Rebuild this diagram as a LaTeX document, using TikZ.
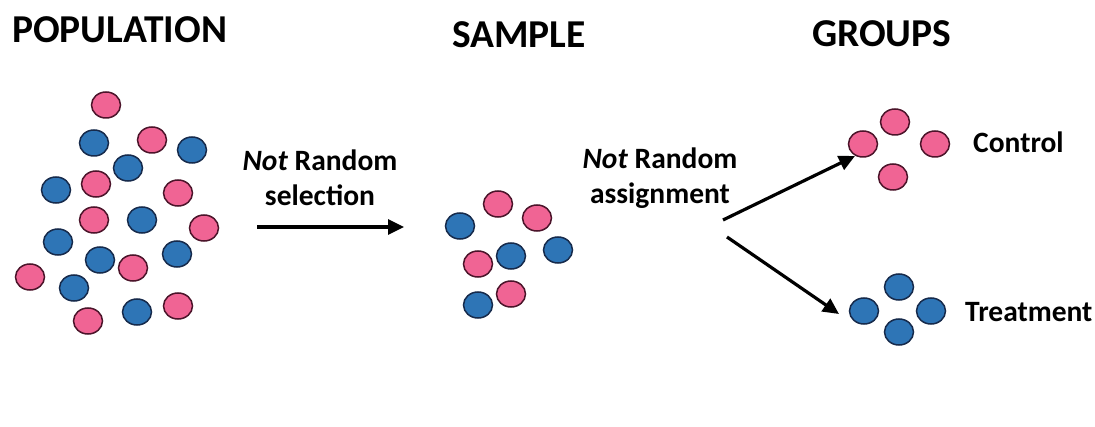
\documentclass[tikz,border=0pt]{standalone}
\usepackage{fontspec}
\setmainfont{Carlito}
\usetikzlibrary{arrows.meta}

\tikzset{
  pinkdot/.style={fill=dotPink, draw=rimPink, line width=1.5pt},
  bluedot/.style={fill=dotBlue, draw=rimBlue, line width=1.5pt},
  title/.style={anchor=base west, inner sep=0pt, font=\bfseries\fontsize{39.5}{47}\selectfont},
  label/.style={inner sep=0pt, font=\bfseries\fontsize{29.5}{35}\selectfont},
  flow/.style={line width=3.2pt, -{Triangle[length=16pt, width=15pt]}}
}

\begin{document}
\begin{tikzpicture}[x=1pt, y=-1pt]
    % Couleurs
    \definecolor{dotPink}{RGB}{240,100,148}
    \definecolor{rimPink}{RGB}{75,20,42}
    \definecolor{dotBlue}{RGB}{46,117,182}
    \definecolor{rimBlue}{RGB}{22,42,75}

    % Cadre
    \useasboundingbox (0,0) rectangle (1095,427);

    % Titres
    \node[title] (population) at (12,43) {POPULATION};
    \node[title] (sample) at (452,48) {SAMPLE};
    \node[title] (groups) at (812,47) {GROUPS};

    % Population
    \foreach \x/\y in {106/105, 152/140, 96/184, 178/193, 94/220, 204/228,
                       133/268, 30/277, 88/321, 178/306}{
        \draw[pinkdot] (\x,\y) ellipse [x radius=14.5pt, y radius=13pt];
    }
    \foreach \x/\y in {94/143, 192/150, 128/168, 56/190, 142/220, 58/242,
                       100/260, 177/254, 74/288, 137/312}{
        \draw[bluedot] (\x,\y) ellipse [x radius=14.5pt, y radius=13pt];
    }

    % Echantillon
    \foreach \x/\y in {498/204, 537/218, 478/264, 511/294}{
        \draw[pinkdot] (\x,\y) ellipse [x radius=14.5pt, y radius=13pt];
    }
    \foreach \x/\y in {460/226, 511/256, 558/250, 478/305}{
        \draw[bluedot] (\x,\y) ellipse [x radius=14.5pt, y radius=13pt];
    }

    % Groupes
    \foreach \x/\y in {895/122, 863/144, 935/144, 893/177}{
        \draw[pinkdot] (\x,\y) ellipse [x radius=14.5pt, y radius=13pt];
    }
    \foreach \x/\y in {899/287, 864/311, 931/311, 899/332}{
        \draw[bluedot] (\x,\y) ellipse [x radius=14.5pt, y radius=13pt];
    }
    \node[label, anchor=base west] (control) at (973,153) {Control};
    \node[label, anchor=base west] (treatment) at (965,322) {Treatment};

    % Selection
    \node[label, align=center, anchor=base] (selection) at (320,206)
        {\textit{Not} Random\\selection};
    \coordinate (selStart) at (257,227);
    \coordinate (selEnd) at (404,227);
    \draw[flow] (selStart) -- (selEnd);

    % Affectation
    \node[label, align=center, anchor=base] (assignment) at (660,204)
        {\textit{Not} Random\\assignment};
    \coordinate (upStart) at (723,220);
    \coordinate (upEnd) at (855,156);
    \coordinate (downStart) at (727,237);
    \coordinate (downEnd) at (839,314);
    \draw[flow] (upStart) -- (upEnd);
    \draw[flow] (downStart) -- (downEnd);
\end{tikzpicture}
\end{document}
